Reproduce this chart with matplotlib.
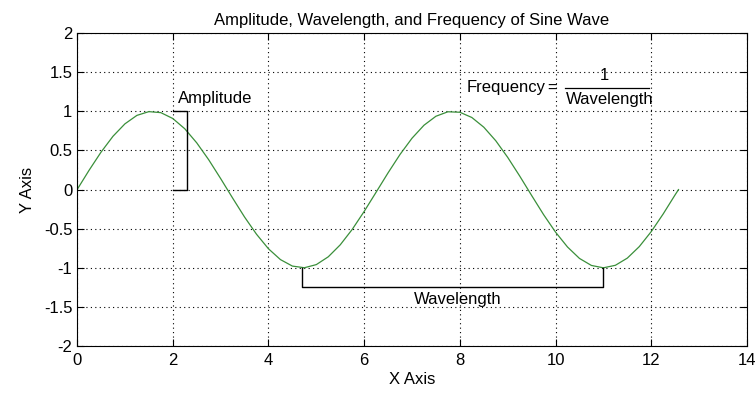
import matplotlib
matplotlib.use('Agg')
import matplotlib.pyplot as plt

plt.rcParams['font.family'] = ['Liberation Sans', 'DejaVu Sans']

# sine wave samples
x_vals = [0, 0.25, 0.5, 0.75, 1.0, 1.25, 1.5, 1.75, 2.0, 2.25, 2.5, 2.75,
          3.0, 3.25, 3.5, 3.75, 4.0, 4.25, 4.5, 4.75, 5.0, 5.25, 5.5, 5.75,
          6.0, 6.25, 6.5, 6.75, 7.0, 7.25, 7.5, 7.75, 8.0, 8.25, 8.5, 8.75,
          9.0, 9.25, 9.5, 9.75, 10.0, 10.25, 10.5, 10.75, 11.0, 11.25, 11.5,
          11.75, 12.0, 12.25, 12.5, 12.57]
y_vals = [0, 0.247, 0.479, 0.682, 0.841, 0.949, 0.997, 0.984, 0.909, 0.778,
          0.598, 0.382, 0.141, -0.108, -0.351, -0.571, -0.757, -0.895, -0.978,
          -0.999, -0.959, -0.859, -0.706, -0.509, -0.279, -0.033, 0.215, 0.450,
          0.657, 0.823, 0.938, 0.995, 0.989, 0.922, 0.798, 0.625, 0.412, 0.174,
          -0.075, -0.320, -0.544, -0.734, -0.880, -0.970, -1.000, -0.968,
          -0.876, -0.729, -0.537, -0.311, -0.066, 0.0]

x_ticks = [0, 2, 4, 6, 8, 10, 12, 14]
y_ticks = [-2, -1.5, -1, -0.5, 0, 0.5, 1, 1.5, 2]
y_tick_labels = ['-2', '-1.5', '-1', '-0.5', '0', '0.5', '1', '1.5', '2']

# annotation brackets
amp_x = [2.0, 2.3, 2.3, 2.0]
amp_y = [1.0, 1.0, 0.0, 0.0]
wave_x = [4.71, 4.71, 10.99, 10.99]
wave_y = [-1.0, -1.25, -1.25, -1.0]
frac_x = [10.2, 11.95]
frac_y = [1.30, 1.30]

fs = 12

fig = plt.figure(figsize=(7.56, 3.95), dpi=100)
ax = fig.add_axes([0.102, 0.124, 0.886, 0.792])

ax.plot(x_vals, y_vals, color='#3a8f3a', linewidth=0.9)
ax.plot(amp_x, amp_y, color='black', linewidth=1)
ax.plot(wave_x, wave_y, color='black', linewidth=1)
ax.plot(frac_x, frac_y, color='black', linewidth=0.9)

ax.text(2.1, 1.16, 'Amplitude', fontsize=fs, va='center', ha='left')
ax.text(7.96, -1.4, 'Wavelength', fontsize=fs, va='center', ha='center')
ax.text(8.14, 1.31, 'Frequency', fontsize=fs, va='center', ha='left')
ax.text(9.93, 1.30, '=', fontsize=fs, va='center', ha='center')
ax.text(11.03, 1.46, '1', fontsize=fs, va='center', ha='center')
ax.text(11.13, 1.15, 'Wavelength', fontsize=fs, va='center', ha='center')

ax.set_xlim(0, 14)
ax.set_ylim(-2, 2)
ax.set_xticks(x_ticks)
ax.set_yticks(y_ticks)
ax.set_yticklabels(y_tick_labels)
ax.tick_params(direction='in', top=True, right=True, labelsize=fs, length=5)
ax.tick_params(axis='x', pad=5)
ax.grid(True, linestyle=(0, (1, 3)), color='black', linewidth=0.8)

ax.set_title('Amplitude, Wavelength, and Frequency of Sine Wave', fontsize=fs)
ax.set_xlabel('X Axis', fontsize=fs, labelpad=3)
ax.set_ylabel('Y Axis', fontsize=fs, labelpad=6)

fig.savefig('out.png', dpi=100)
